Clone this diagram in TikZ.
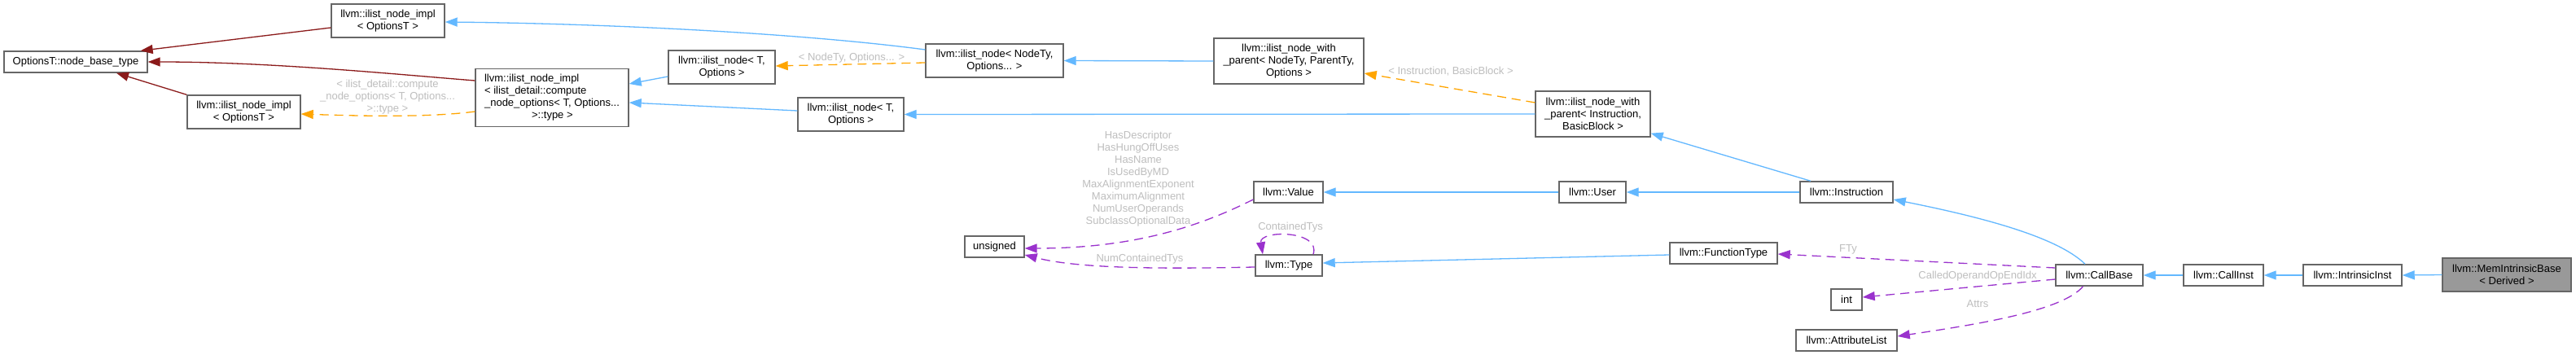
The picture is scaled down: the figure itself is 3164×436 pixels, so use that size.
\documentclass[tikz,border=0pt]{standalone}
\usepackage{fontspec}
\setmainfont{Liberation Sans}
\usetikzlibrary{arrows.meta}
\definecolor{boxgrey}{HTML}{666666}
\definecolor{curfill}{HTML}{999999}
\definecolor{inhblue}{HTML}{63B8FF}
\definecolor{privred}{HTML}{8B1A1A}
\definecolor{tmplorange}{HTML}{FFA500}
\definecolor{usepurple}{HTML}{9A32CD}
\definecolor{labgrey}{HTML}{BEBEBE}
\tikzset{
  cls/.style   = {draw=boxgrey, fill=white, line width=1.4pt, align=center,
                  inner sep=1pt, font=\fontsize{13}{15}\selectfont},
  cur/.style   = {cls, fill=curfill},
  lines/.style = {minimum height=15pt*#1+11pt},
  inh/.style   = {-{Triangle[length=15pt,width=11pt]}, line width=1.3pt, draw=inhblue},
  priv/.style  = {inh, draw=privred},
  tmpl/.style  = {inh, draw=tmplorange, dash pattern=on 11pt off 7pt},
  usage/.style = {inh, draw=usepurple, dash pattern=on 11pt off 7pt},
  lab/.style   = {font=\fontsize{13}{15}\selectfont, text=labgrey, align=center,
                  inner sep=0pt},
}
\begin{document}
\begin{tikzpicture}[x=1pt, y=-1pt]
  \fill[white] (0,0) rectangle (3164,436);
  \useasboundingbox (0,0) rectangle (3164,436);

  % --- ilist node bases ---
  \node[cls, minimum width=176pt, lines=1] (nbt) at (93,76) {OptionsT::node\_base\_type};
  \node[cls, minimum width=139pt, lines=2] (implTop) at (476.5,25.5) {llvm::ilist\_node\_impl\\< OptionsT >};
  \node[cls, minimum width=139pt, lines=2] (implBot) at (299.5,137.5) {llvm::ilist\_node\_impl\\< OptionsT >};
  \node[cls, minimum width=188pt, lines=4, align=left] (implDetail) at (678,120)
        {llvm::ilist\_node\_impl\\< ilist\_detail::compute\\\_node\_options< T, Options...\\\hspace*{58pt}>::type >};
  \node[cls, minimum width=131pt, lines=2] (nodeT1) at (886.5,82.5) {llvm::ilist\_node< T,\\Options >};
  \node[cls, minimum width=169pt, lines=2] (nodeNT) at (1221.5,74.5) {llvm::ilist\_node< NodeTy,\\Options... >};
  \node[cls, minimum width=130pt, lines=2] (nodeT2) at (1045,140.5) {llvm::ilist\_node< T,\\Options >};
  \node[cls, minimum width=184pt, lines=3] (parentNT) at (1583,75) {llvm::ilist\_node\_with\\\_parent< NodeTy, ParentTy,\\Options >};
  \node[cls, minimum width=141pt, lines=3] (parentIB) at (1956.5,140) {llvm::ilist\_node\_with\\\_parent< Instruction,\\BasicBlock >};

  % --- value / type side ---
  \node[cls, minimum width=85pt, lines=1] (value) at (1582.5,236) {llvm::Value};
  \node[cls, minimum width=82pt, lines=1] (user) at (1956,236) {llvm::User};
  \node[cls, minimum width=114pt, lines=1] (instr) at (2268,236) {llvm::Instruction};
  \node[cls, minimum width=73pt, lines=1] (unsig) at (1221.5,303) {unsigned};
  \node[cls, minimum width=82pt, lines=1] (type) at (1583,326) {llvm::Type};
  \node[cls, minimum width=132pt, lines=1] (functype) at (2117,311) {llvm::FunctionType};
  \node[cls, minimum width=38pt, lines=1] (int) at (2268,368) {int};
  \node[cls, minimum width=124pt, lines=1] (attrs) at (2268,418) {llvm::AttributeList};
  \node[cls, minimum width=107pt, lines=1] (callbase) at (2578.5,338) {llvm::CallBase};
  \node[cls, minimum width=98pt, lines=1] (callinst) at (2731,338) {llvm::CallInst};
  \node[cls, minimum width=121pt, lines=1] (intrinsic) at (2889.5,338) {llvm::IntrinsicInst};
  \node[cur, minimum width=158pt, lines=2] (memintr) at (3079,337.5) {llvm::MemIntrinsicBase\\< Derived >};

  % --- private bases ---
  \draw[priv] ([yshift=-8.5pt]implTop.west) -- ([xshift=-9pt]nbt.north east);
  \draw[priv] ([yshift=21pt]implDetail.west) .. controls +(-100,-8) and +(150,0) .. (nbt.east);
  \draw[priv] (implBot.north west) -- ([xshift=50pt]nbt.south);

  % --- template instances ---
  \draw[tmpl] ([yshift=-17pt]implDetail.west) .. controls +(-60,8) and +(60,2) .. ([yshift=-2.5pt]implBot.east);
  \node[lab] (lDetail) at (476,119) {< ilist\_detail::compute\\\_node\_options< T, Options...\\>::type >};
  \draw[tmpl] ([yshift=-2.5pt]nodeNT.west) -- ([yshift=1.5pt]nodeT1.east);
  \node[lab] (lNodeTy) at (1046,71) {< NodeTy, Options... >};
  \draw[tmpl] ([yshift=14pt]parentIB.west) -- ([yshift=-15pt]parentNT.east);
  \node[lab] (lInstBB) at (1782,88) {< Instruction, BasicBlock >};

  % --- public bases ---
  \draw[inh] ([yshift=13.5pt]nodeNT.west) .. controls +(-150,-20) and +(200,2) .. ([yshift=-1.5pt]implTop.east);
  \draw[inh] ([yshift=-11.5pt]nodeT1.west) -- ([yshift=17pt]implDetail.east);
  \draw[inh] ([yshift=4.5pt]nodeT2.west) -- ([yshift=-6pt]implDetail.east);
  \draw[inh] (parentNT.west) -- (nodeNT.east);
  \draw[inh] (parentIB.west) -- (nodeT2.east);
  \draw[inh] ([xshift=-44pt]instr.north) -- ([yshift=5pt]parentIB.south east);
  \draw[inh] (user.west) -- (value.east);
  \draw[inh] (instr.west) -- (user.east);
  \draw[inh] ([xshift=-17.5pt]callbase.north) .. controls +(-36,-35) and +(100,20) .. ([yshift=-9pt]instr.east);
  \draw[inh] ([yshift=-2pt]functype.west) -- ([yshift=3pt]type.east);
  \draw[inh] (callinst.west) -- (callbase.east);
  \draw[inh] (intrinsic.west) -- (callinst.east);
  \draw[inh] (memintr.west) -- (intrinsic.east);

  % --- members ---
  \draw[usage] ([yshift=-9pt]value.west) .. controls +(-60,30) and +(140,0) .. ([yshift=-2pt]unsig.east);
  \node[lab] (lValue) at (1398,219.5) {HasDescriptor\\HasHungOffUses\\HasName\\IsUsedByMD\\MaxAlignmentExponent\\MaximumAlignment\\NumUserOperands\\SubclassOptionalData};
  \draw[usage] ([yshift=-2pt]type.west) .. controls +(-100,2) and +(70,18) .. ([yshift=-10pt]unsig.east);
  \node[lab] (lNumCT) at (1400,318) {NumContainedTys};
  \draw[usage] ([xshift=30pt]type.north) .. controls +(10,-30) and +(-5,-30) .. ([xshift=-32pt]type.north);
  \node[lab] (lCT) at (1585,279) {ContainedTys};
  \draw[usage] ([yshift=9pt]callbase.west) -- ([yshift=-1pt]functype.east);
  \node[lab] (lFTy) at (2270,306) {FTy};
  \draw[usage] ([yshift=-5pt]callbase.west) -- ([yshift=3pt]int.east);
  \node[lab] (lCalled) at (2429,339) {CalledOperandOpEndIdx};
  \draw[usage] ([xshift=-20pt]callbase.south) .. controls +(-25,30) and +(100,-15) .. ([yshift=5pt]attrs.east);
  \node[lab] (lAttrs) at (2429,373) {Attrs};
\end{tikzpicture}
\end{document}
